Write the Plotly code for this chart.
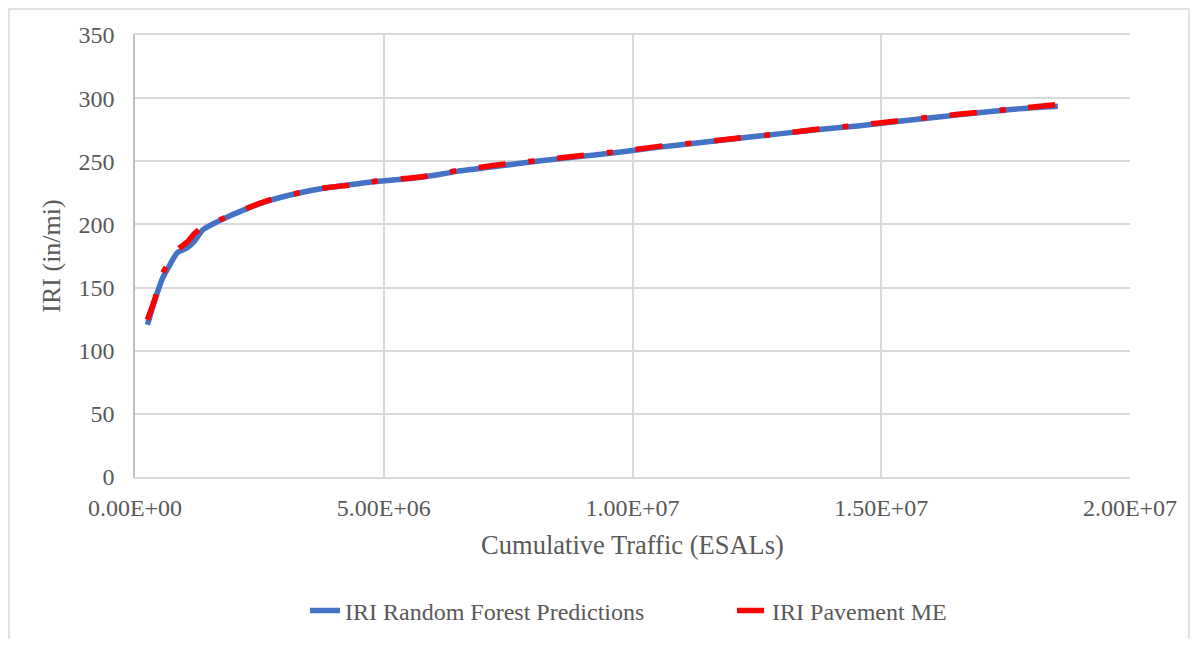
import plotly.graph_objects as go

# cumulative traffic (ESALs) and IRI (in/mi)
esals = [0.25e6, 0.40e6, 0.55e6, 0.70e6, 0.85e6, 1.05e6, 1.20e6, 1.37e6, 1.70e6,
         2.25e6, 2.71e6, 3.25e6, 3.85e6, 4.32e6, 4.86e6, 5.59e6, 5.95e6, 6.47e6,
         7.27e6, 8.07e6, 8.88e6, 9.68e6, 10.49e6, 11.29e6, 12.09e6, 12.90e6,
         13.70e6, 14.53e6, 15.31e6, 16.15e6, 16.95e6, 17.75e6, 18.55e6]

iri_rf = [120.5, 140.0, 157.0, 168.0, 177.5, 181.5, 187.0, 196.0, 203.0,
          212.5, 219.0, 224.5, 229.0, 231.5, 234.0, 236.5, 238.5, 242.0,
          246.0, 250.0, 253.5, 257.0, 261.0, 264.5, 268.0, 271.5,
          275.0, 278.0, 281.5, 285.0, 288.5, 291.5, 293.5]

iri_me = [124.5, 141.0, 161.0, 171.0, 180.0, 186.0, 193.0, 198.0, 203.5,
          212.8, 219.4, 224.6, 229.1, 231.2, 234.4, 237.0, 238.8, 242.6,
          247.0, 250.5, 254.2, 257.6, 261.6, 264.8, 268.2, 271.6,
          275.3, 278.5, 281.9, 285.6, 288.8, 291.7, 295.0]

x_ticks = [0, 5e6, 1e7, 1.5e7, 2e7]
x_tick_labels = ["0.00E+00", "5.00E+06", "1.00E+07", "1.50E+07", "2.00E+07"]
y_ticks = [0, 50, 100, 150, 200, 250, 300, 350]

FONT = "Liberation Serif"
GREY = "#595959"
GRID = "#D9D9D9"

fig = go.Figure()

fig.add_trace(go.Scatter(
    x=esals, y=iri_rf,
    mode="lines",
    name="IRI Random Forest Predictions",
    line=dict(color="#4472C4", width=5.5, shape="spline", smoothing=0.6),
))

fig.add_trace(go.Scatter(
    x=esals, y=iri_me,
    mode="lines",
    name="IRI Pavement ME",
    line=dict(color="#FF0000", width=5.5, shape="spline", smoothing=0.6,
              dash="27px,23px,6px,23px"),
))

fig.update_xaxes(
    range=[0, 2e7],
    tickvals=x_ticks,
    ticktext=x_tick_labels,
    showgrid=True, gridcolor=GRID, gridwidth=1.5,
    showline=True, linecolor=GRID, linewidth=1.5, mirror=True,
    zeroline=False,
    ticks="",
    automargin=False,
    ticklabelstandoff=8,
    tickfont=dict(family=FONT, size=24, color=GREY),
    title=dict(text="Cumulative Traffic (ESALs)", standoff=16,
               font=dict(family=FONT, size=26.5, color=GREY)),
)

fig.update_yaxes(
    range=[0, 350],
    tickvals=y_ticks,
    showgrid=True, gridcolor=GRID, gridwidth=1.5,
    showline=True, linecolor="#BFBFBF", linewidth=1.5, mirror=False,
    zeroline=False,
    ticks="",
    automargin=False,
    ticklabelstandoff=14,
    tickfont=dict(family=FONT, size=24, color=GREY),
    title=dict(text="IRI (in/mi)", standoff=10,
               font=dict(family=FONT, size=26, color=GREY)),
)

# outer chart border (bottom edge runs off the page, as in the original)
fig.add_shape(type="rect", xref="paper", yref="paper",
              x0=-0.1266, x1=1.0593, y0=-0.6, y1=1.0588,
              line=dict(color=GRID, width=1.5), layer="below")

fig.update_layout(
    width=1182, height=631,
    margin=dict(l=127, r=60, t=27, b=162),
    paper_bgcolor="white",
    plot_bgcolor="white",
    font=dict(family=FONT, color=GREY),
    showlegend=True,
    legend=dict(
        orientation="h",
        x=0.1709, xanchor="left",
        yref="container",
        y=0.0444, yanchor="middle",
        bgcolor="rgba(0,0,0,0)",
        font=dict(family=FONT, size=24, color=GREY),
        entrywidth=382,
        tracegroupgap=0,
    ),
)

fig.write_html("out.html")
